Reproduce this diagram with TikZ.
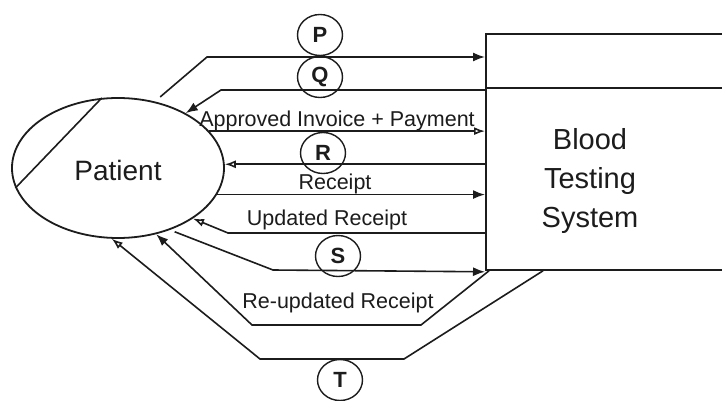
\documentclass[tikz,border=0pt]{standalone}
\usepackage{fontspec}
\setmainfont{Liberation Sans}
\usetikzlibrary{arrows.meta,shapes.geometric,calc}
\definecolor{ink}{RGB}{28,28,28}
\begin{document}
\begin{tikzpicture}[x=1pt,y=-1pt,
  flow/.style={draw=ink,line width=1.6pt,line join=miter},
  tipfull/.style={-{Latex[length=12pt,width=9pt]}},
  tipopen/.style={-{Latex[open,fill=white,length=11pt,width=8pt]}},
  lbl/.style={text=ink,anchor=base,inner sep=0pt,font=\fontsize{21.5}{24}\selectfont},
  letter/.style={ellipse,draw=ink,line width=1.4pt,minimum width=45pt,minimum height=41pt,inner sep=0pt,text=ink,font=\fontsize{22}{24}\selectfont\bfseries}
]
\clip (0,0) rectangle (722,401);
\fill[white] (0,0) rectangle (722,401);

% entity and process
\node[ellipse,draw=ink,line width=1.8pt,minimum width=212pt,minimum height=140pt,inner sep=0pt] (patient) at (118,168) {};
\node[text=ink,font=\fontsize{28}{30}\selectfont] (ptext) at (118,170) {Patient};
\draw[flow] (patient.103) -- (patient.191);

\node[draw=ink,line width=1.8pt,minimum width=300pt,minimum height=236pt,anchor=north west,inner sep=0pt] (sys) at (485,33) {};
\node[text=ink,align=center,font=\fontsize{29}{39}\selectfont] (systext) at (590,181.5) {Blood\\Testing\\System};
\draw[flow] ($(sys.north west)+(0,55)$) -- ($(sys.north east)+(0,55)$);

% P
\coordinate (pb) at (207,57);
\draw[flow,tipfull,shorten <=7pt] (patient.61) -- (pb) -- (pb -| sys.west);
% Q
\coordinate (qa) at ($(sys.north west)+(0,57)$);
\coordinate (qb) at (221,90);
\draw[flow,tipfull] (qa) -- (qb) -- (patient.39);
% Approved Invoice + Payment
\draw[flow,tipopen] (patient.22) -- (patient.22 -| sys.west);
% R
\draw[flow,tipopen] (patient.2 -| sys.west) -- (patient.2);
% Receipt
\draw[flow,tipfull] (patient.345) -- (patient.345 -| sys.west);
% Updated Receipt
\coordinate (ua) at ($(sys.north west)+(0,200)$);
\coordinate (ub) at (228,233);
\draw[flow,tipopen] (ua) -- (ub) -- (patient.326);
% S
\coordinate (sb) at (273,270);
\coordinate (se) at ($(sys.south west)+(0,1)$);
\draw[flow,tipfull,shorten <=5pt] (patient.310) -- (sb) -- (se);
% Re-updated Receipt
\coordinate (ra) at ($(sys.south west)+(4,0)$);
\coordinate (rb) at (421,325);
\coordinate (rc) at (252,325);
\draw[flow,tipfull] (ra) -- (rb) -- (rc) -- (patient.300);
% T
\coordinate (ta) at ($(sys.south west)+(58,0)$);
\coordinate (tb) at (404,359);
\coordinate (tc) at (260,359);
\draw[flow,tipopen] (ta) -- (tb) -- (tc) -- (patient.265);

% labels
\node[lbl] (lapp) at (337,127) {Approved Invoice + Payment};
\node[lbl] (lrec) at (335,189) {Receipt};
\node[lbl] (lupd) at (327,225) {Updated Receipt};
\node[lbl] (lreu) at (338,308) {Re-updated Receipt};

% flow letters
\node[letter] (cp) at (320,35) {P};
\node[letter] (cq) at (320,77) {Q};
\node[letter] (cr) at (323,153) {R};
\node[letter] (cs) at (338,256) {S};
\node[letter] (ct) at (340,380) {T};
\end{tikzpicture}
\end{document}
